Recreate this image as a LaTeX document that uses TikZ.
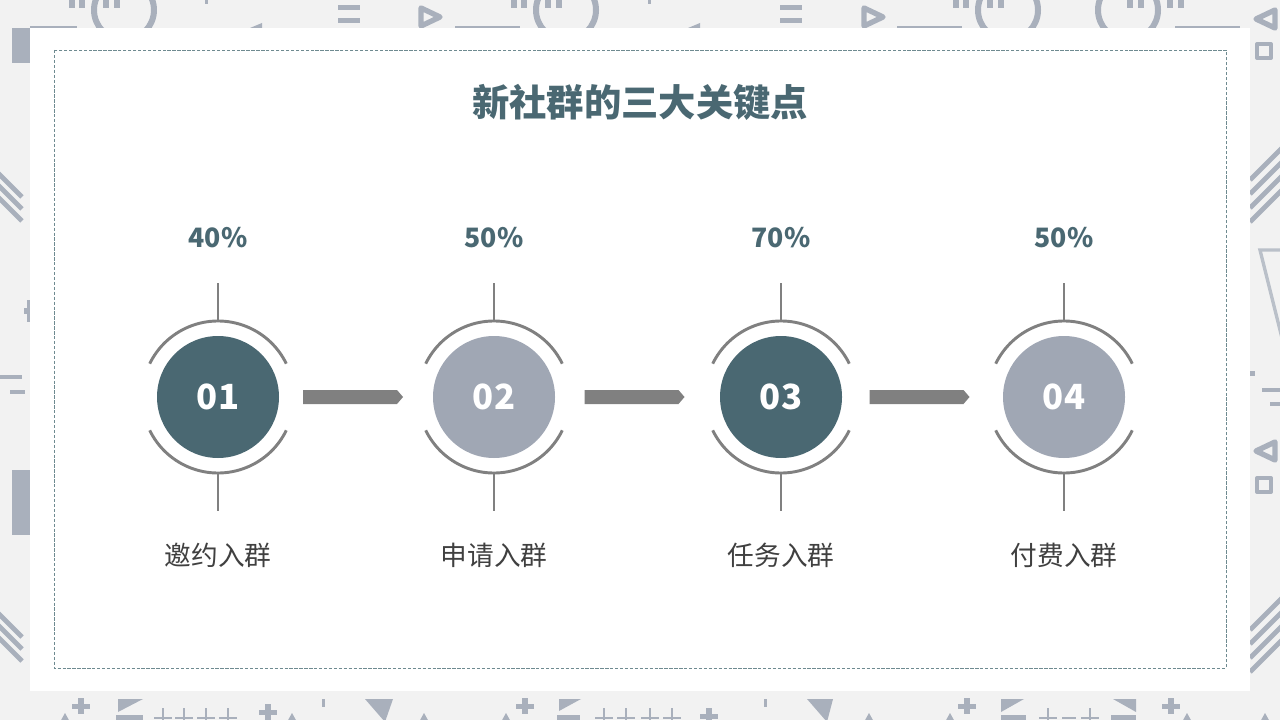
\documentclass[tikz,border=0pt]{standalone}
\usepackage{fontspec}
\setmainfont{Noto Sans CJK SC}
\usetikzlibrary{calc}
\definecolor{bgcol}{HTML}{F2F2F2}
\definecolor{decoc}{HTML}{A9B0BC}
\definecolor{tealc}{HTML}{4A6872}
\definecolor{greyc}{HTML}{A0A7B4}
\definecolor{stubc}{HTML}{808080}
\definecolor{textc}{HTML}{404040}
\definecolor{dashc}{HTML}{6E8A90}
\tikzset{
  keycircle/.style={circle, minimum size=91.5pt, inner sep=0pt, text=white, font=\bfseries\fontsize{26}{26}\selectfont},
  ringarc/.style={draw=stubc, line width=2.2pt},
  pct/.style={text=tealc, font=\bfseries\fontsize{20}{20}\selectfont},
  steplabel/.style={text=textc, font=\fontsize{20}{20}\selectfont},
  headline/.style={text=tealc, font=\bfseries\fontsize{28}{28}\selectfont},
  flowbar/.style={fill=stubc},
  deco/.style={draw=decoc, line width=4pt, line join=round},
  thincross/.style={draw=decoc, line width=1.4pt},
}
\begin{document}
\begin{tikzpicture}[x=0.75pt, y=-0.75pt]
\useasboundingbox (0,0) rectangle (1280,720);
\fill[bgcol] (0,0) rectangle (1280,720);
% background pattern
\foreach \cx in {124,566,1008} {
  \draw[deco, line width=4.5pt] (\cx,10) circle[radius=30];
  \foreach \dx in {-52,-42,-18,-7} \fill[decoc] (\cx+\dx-3,-1) rectangle ++(6,9);
}
\draw[deco, line width=4.5pt] (1128,10) circle[radius=30];
\foreach \dx in {2,13,42,53} \fill[decoc] (1128+\dx-3,-1) rectangle ++(6,9);
\foreach \x in {338,780} {
  \fill[decoc] (\x,5) rectangle ++(22,5);
  \fill[decoc] (\x,18) rectangle ++(22,5);
}
\foreach \x in {421,864} \draw[deco] (\x,8) -- (\x+19,17) -- (\x,26) -- cycle;
\draw[deco] (1275,10) -- (1256,19) -- (1275,28) -- cycle;
\draw[deco] (1275,442) -- (1256,451) -- (1275,460) -- cycle;
\draw[deco, line width=3pt] (1257,44) rectangle (1271,58);
\draw[deco, line width=3pt] (1257,478) rectangle (1271,492);
\foreach \a/\b in {30/77,455/520,897/962,1175/1240} \draw[decoc, line width=1.5pt] (\a,27) -- (\b,27);
\foreach \x in {250,688} \fill[decoc] (\x,28) -- (\x+12,23) -- (\x+12,28) -- cycle;
\foreach \x in {205,648} \fill[decoc] (\x,0) rectangle ++(3,4);
\fill[decoc] (12,28) rectangle (30,63);
\fill[decoc] (12,470) rectangle (30,535);
\foreach \o in {0,12,24} {
  \draw[deco, line width=3.5pt] (-5,170+\o) -- (22,197+\o);
  \draw[deco, line width=3.5pt] (-5,610+\o) -- (22,637+\o);
}
\foreach \o in {0,14,28,42} {
  \draw[deco, line width=3.5pt] (1250,180+\o) -- (1285,145+\o);
  \draw[deco, line width=3.5pt] (1250,630+\o) -- (1285,595+\o);
}
\draw[decoc!80, line width=2.5pt] (1282,250) -- (1260,250) -- (1282,338);
\fill[decoc] (24,308) rectangle (30,314);
\fill[decoc] (27,300) rectangle (30,322);
\fill[decoc] (0,375) rectangle (22,379);
\fill[decoc] (10,390) rectangle (25,394);
\fill[decoc] (1250,371) rectangle (1255,376);
\fill[decoc] (1262,388) rectangle (1280,392);
\fill[decoc] (1270,402) rectangle (1280,406);
\foreach \cx/\cy in {81/706,268/712,525/706,709/716,967/706,1171/706} {
  \fill[decoc] (\cx-9,\cy-2.5) rectangle (\cx+9,\cy+2.5);
  \fill[decoc] (\cx-3,\cy-8) rectangle (\cx+3,\cy+8);
}
\fill[decoc] (118,699) -- (143,699) -- (118,712) -- cycle;
\fill[decoc] (559,699) -- (581,699) -- (559,711) -- cycle;
\fill[decoc] (1001,699) -- (1024,699) -- (1001,712) -- cycle;
\fill[decoc] (1113,699) -- (1136,699) -- (1136,712) -- cycle;
\fill[decoc] (365,699) -- (393,699) -- (385,722) -- cycle;
\fill[decoc] (807,699) -- (833,699) -- (827,722) -- cycle;
\foreach \a/\b in {116/143,557/580,1001/1026,1111/1136} \fill[decoc] (\a,715) rectangle (\b,722);
\foreach \cx in {163,184,206,228,604,626,650,672,1048,1090} {
  \draw[thincross] (\cx-9,718) -- (\cx+9,718);
  \draw[thincross] (\cx,708) -- (\cx,722);
}
\draw[thincross] (1062,718) -- (1076,718);
\foreach \x in {65,292,424,506,869,950,1187,1265} \fill[decoc] (\x-5,722) -- (\x,713) -- (\x+5,722) -- cycle;
\foreach \x in {322,764} \fill[decoc] (\x,699) rectangle ++(3,8);
% panel
\fill[white] (30,28) rectangle (1250,691);
\draw[dashc, line width=0.6pt, dash pattern=on 2.5pt off 1.2pt] (54,50) rectangle (1226,668);
\node[headline] (title) at (640,102) {新社群的三大关键点};
\node[keycircle, fill=tealc] (n1) at (218,397) {01};
\node[keycircle, fill=greyc] (n2) at (494,397) {02};
\node[keycircle, fill=tealc] (n3) at (781,397) {03};
\node[keycircle, fill=greyc] (n4) at (1064,397) {04};
\node[pct] (p1) at (218,238) {40\%};
\node[pct] (p2) at (494,238) {50\%};
\node[pct] (p3) at (781,238) {70\%};
\node[pct] (p4) at (1064,238) {50\%};
\node[steplabel] (s1) at (218,555) {邀约入群};
\node[steplabel] (s2) at (494,555) {申请入群};
\node[steplabel] (s3) at (781,555) {任务入群};
\node[steplabel] (s4) at (1064,555) {付费入群};
\foreach \n in {n1,n2,n3,n4} {
  \draw[ringarc] (\n.center) ++(26:76) arc[start angle=26, end angle=154, radius=76];
  \draw[ringarc] (\n.center) ++(-26:76) arc[start angle=-26, end angle=-154, radius=76];
  \draw[ringarc] (\n.center) ++(0,-76) -- ++(0,-38);
  \draw[ringarc] (\n.center) ++(0,76) -- ++(0,38);
}
\foreach \a/\b in {n1/n2,n2/n3,n3/n4}
  \fill[flowbar] ($(\a)!0.5!(\b)+(-53,-7)$) -- ++(94,0) -- ++(6,7) -- ++(-6,7) -- ++(-94,0) -- cycle;
\end{tikzpicture}
\end{document}
